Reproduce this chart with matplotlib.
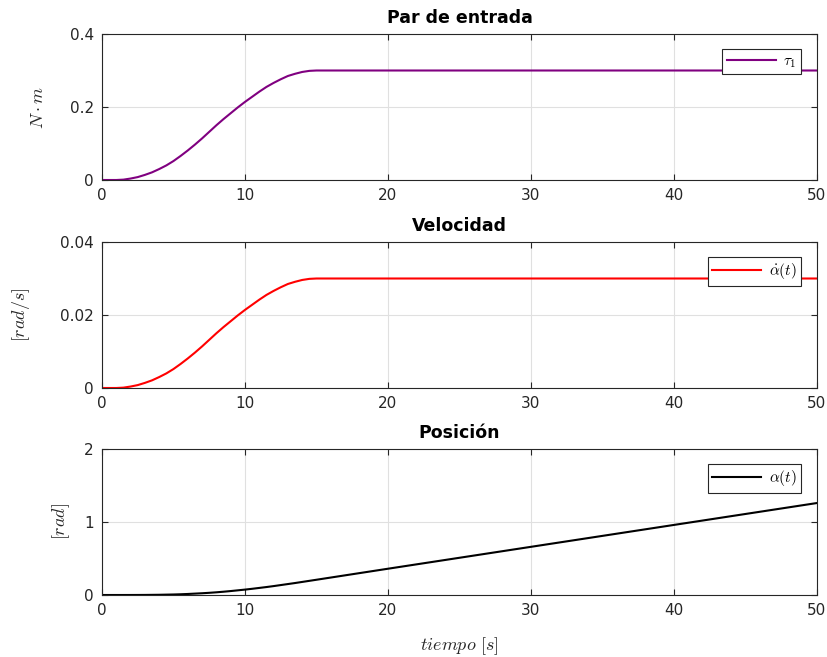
import matplotlib

matplotlib.use("Agg")
import matplotlib.pyplot as plt

plt.rcParams["mathtext.fontset"] = "cm"
plt.rcParams["font.family"] = "DejaVu Sans"

# values (time in s)
t_s = [0, 1, 1.5, 2, 2.5, 3, 3.5, 4, 4.5, 5, 5.5, 6, 6.5, 7, 7.5, 8, 8.5, 9, 9.5,
       10, 10.5, 11, 11.5, 12, 12.5, 13, 13.5, 14, 14.5, 15, 20, 30, 40, 50]
torque = [0, 0, 0.001, 0.004, 0.008, 0.014, 0.021, 0.030, 0.040, 0.052, 0.066,
          0.081, 0.097, 0.114, 0.132, 0.150, 0.167, 0.183, 0.199, 0.214, 0.228,
          0.242, 0.255, 0.266, 0.276, 0.285, 0.291, 0.296, 0.299, 0.300,
          0.300, 0.300, 0.300, 0.300]
velocity = [0, 0, 0.0001, 0.0004, 0.0008, 0.0014, 0.0021, 0.0030, 0.0040, 0.0052,
            0.0066, 0.0081, 0.0097, 0.0114, 0.0132, 0.0150, 0.0167, 0.0183, 0.0199,
            0.0214, 0.0228, 0.0242, 0.0255, 0.0266, 0.0276, 0.0285, 0.0291, 0.0296,
            0.0299, 0.0300, 0.0300, 0.0300, 0.0300, 0.0300]
position = [0, 0, 0, 0.0002, 0.0005, 0.001, 0.002, 0.003, 0.005, 0.007, 0.010,
            0.014, 0.019, 0.024, 0.030, 0.037, 0.045, 0.054, 0.064, 0.074, 0.085,
            0.097, 0.109, 0.122, 0.136, 0.150, 0.164, 0.179, 0.194, 0.209,
            0.36, 0.66, 0.96, 1.26]

titles = ["Par de entrada", "Velocidad", "Posición"]
ylabels = [r"$N \cdot m$", r"$[rad/s]$", r"$[rad]$"]
legends = [r"$\tau_1$", r"$\dot{\alpha}(t)$", r"$\alpha(t)$"]
colors = ["#800080", "#ff0000", "#000000"]
yticks = [[0, 0.2, 0.4], [0, 0.02, 0.04], [0, 1, 2]]
yticklabels = [["0", "0.2", "0.4"], ["0", "0.02", "0.04"], ["0", "1", "2"]]
xticks = [0, 10, 20, 30, 40, 50]

fig = plt.figure(figsize=(8.28, 6.57), dpi=100)
W, H = 828, 657
tops = [34, 242, 449]
ax_h = 146
label_pads = [16, 20, 9]

for i, series in enumerate([torque, velocity, position]):
    top = tops[i]
    ax = fig.add_axes([102 / W, 1 - (top + ax_h) / H, 715 / W, ax_h / H])
    ax.plot(t_s, series, color=colors[i], linewidth=1.5, label=legends[i])
    ax.set_xlim(0, 50)
    ax.set_ylim(yticks[i][0], yticks[i][-1])
    ax.set_xticks(xticks)
    ax.set_yticks(yticks[i], yticklabels[i])
    ax.tick_params(direction="in", top=True, right=True, labelsize=11,
                   colors="#262626", length=4, width=0.8, pad=6)
    ax.grid(True, color="#e0e0e0", linewidth=0.8)
    ax.set_axisbelow(True)
    for sp in ax.spines.values():
        sp.set_color("#262626")
        sp.set_linewidth(0.8)
    ax.set_title(titles[i], fontsize=12.5, fontweight="bold", pad=8)
    ax.set_ylabel(ylabels[i], fontsize=13, color="#262626", labelpad=label_pads[i])
    leg = ax.legend(loc="upper right", bbox_to_anchor=(0.978, 0.9), fontsize=11,
                    fancybox=False, framealpha=1, edgecolor="#262626",
                    handlelength=3.2, borderpad=0.3, handletextpad=0.5,
                    borderaxespad=0)
    leg.get_frame().set_linewidth(0.8)
    if i == 2:
        ax.set_xlabel(r"$tiempo\ [s]$", fontsize=13, color="#262626", labelpad=12)

fig.savefig("out.png", dpi=100)
